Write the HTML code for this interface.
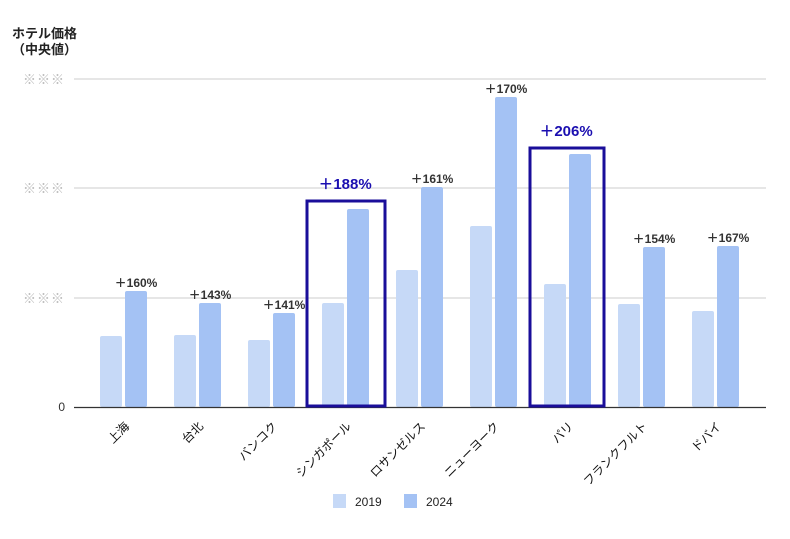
<!DOCTYPE html>
<html><head><meta charset="utf-8"><style>
body{margin:0;background:#fff}
text{font-family:"Liberation Sans","Noto Sans CJK JP",sans-serif}
</style></head><body>
<svg width="790" height="534" viewBox="0 0 790 534" xmlns="http://www.w3.org/2000/svg">
<text x="12" y="38" font-size="13" font-weight="bold" fill="#222">ホテル価格</text>
<text x="12" y="54" font-size="13" font-weight="bold" fill="#222">（中央値）</text>
<g stroke="#ccc" stroke-width="1">
<line x1="74" y1="79" x2="766" y2="79"/><line x1="74" y1="188" x2="766" y2="188"/><line x1="74" y1="298" x2="766" y2="298"/>
</g>
<g font-size="13" fill="#bbb" text-anchor="end" letter-spacing="1">
<text x="65" y="84">※※※</text><text x="65" y="193">※※※</text><text x="65" y="303">※※※</text>
</g>
<text x="65" y="411" font-size="12" fill="#333" text-anchor="end">0</text>
<g fill="#c6d9f7">
<rect x="100" y="336" width="22" height="71" rx="2"/>
<rect x="174" y="335" width="22" height="72" rx="2"/>
<rect x="248" y="340" width="22" height="67" rx="2"/>
<rect x="322" y="303" width="22" height="104" rx="2"/>
<rect x="396" y="270" width="22" height="137" rx="2"/>
<rect x="470" y="226" width="22" height="181" rx="2"/>
<rect x="544" y="284" width="22" height="123" rx="2"/>
<rect x="618" y="304" width="22" height="103" rx="2"/>
<rect x="692" y="311" width="22" height="96" rx="2"/>
</g>
<g fill="#a4c2f4">
<rect x="125" y="291" width="22" height="116" rx="2"/>
<rect x="199" y="303" width="22" height="104" rx="2"/>
<rect x="273" y="313" width="22" height="94" rx="2"/>
<rect x="347" y="209" width="22" height="198" rx="2"/>
<rect x="421" y="187" width="22" height="220" rx="2"/>
<rect x="495" y="97" width="22" height="310" rx="2"/>
<rect x="569" y="154" width="22" height="253" rx="2"/>
<rect x="643" y="247" width="22" height="160" rx="2"/>
<rect x="717" y="246" width="22" height="161" rx="2"/>
</g>
<line x1="74" y1="407.5" x2="766" y2="407.5" stroke="#333" stroke-width="1.3"/>
<g fill="none" stroke="#1a0e9a" stroke-width="3">
<rect x="307" y="201" width="78" height="205"/>
<rect x="530" y="148" width="74" height="258"/>
</g>
<g font-size="12" font-weight="bold" fill="#333" text-anchor="middle">
<text x="136" y="287">＋160%</text>
<text x="210" y="299">＋143%</text>
<text x="284" y="309">＋141%</text>
<text x="432" y="183">＋161%</text>
<text x="506" y="93">＋170%</text>
<text x="654" y="243">＋154%</text>
<text x="728" y="242">＋167%</text>
</g>
<g font-size="15" font-weight="bold" fill="#1a0eb0" text-anchor="middle">
<text x="345" y="189">＋188%</text>
<text x="566" y="136">＋206%</text>
</g>
<g font-size="12" fill="#111" text-anchor="end">
<text transform="translate(130,427) rotate(-45)">上海</text>
<text transform="translate(204,427) rotate(-45)">台北</text>
<text transform="translate(278,427) rotate(-45)">バンコク</text>
<text transform="translate(352,427) rotate(-45)">シンガポール</text>
<text transform="translate(426,427) rotate(-45)">ロサンゼルス</text>
<text transform="translate(500,427) rotate(-45)">ニューヨーク</text>
<text transform="translate(574,427) rotate(-45)">パリ</text>
<text transform="translate(648,427) rotate(-45)">フランクフルト</text>
<text transform="translate(722,427) rotate(-45)">ドバイ</text>
</g>
<rect x="333" y="494" width="13" height="14" fill="#c6d9f7"/>
<text x="355" y="506" font-size="12" fill="#222">2019</text>
<rect x="404" y="494" width="13" height="14" fill="#a4c2f4"/>
<text x="426" y="506" font-size="12" fill="#222">2024</text>
</svg>
</body></html>
